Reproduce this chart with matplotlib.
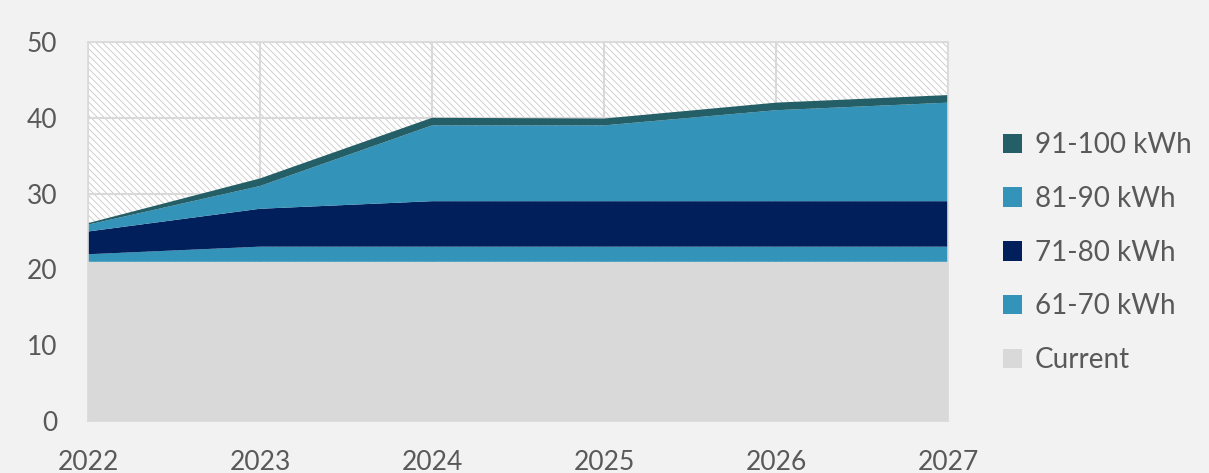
import matplotlib
matplotlib.use('Agg')
import matplotlib.pyplot as plt
from matplotlib.patches import Rectangle, Patch

plt.rcParams['font.family'] = ['Lato', 'DejaVu Sans']
plt.rcParams['hatch.color'] = '#C8C8C8'
plt.rcParams['hatch.linewidth'] = 0.6

# battery size mix per year
years = [2022, 2023, 2024, 2025, 2026, 2027]
current = [21, 21, 21, 21, 21, 21]
kwh_61_70 = [1, 2, 2, 2, 2, 2]
kwh_71_80 = [3, 5, 6, 6, 6, 6]
kwh_81_90 = [0.9, 3, 10, 10, 12, 13]
kwh_91_100 = [0.2, 1, 1, 0.9, 1, 1]

labels = ['Current', '61-70 kWh', '71-80 kWh', '81-90 kWh', '91-100 kWh']
colors = ['#D9D9D9', '#3393B9', '#001F5B', '#3393B9', '#245E66']

fig = plt.figure(figsize=(12.09, 4.73), dpi=100)
fig.patch.set_facecolor('#F2F2F2')
ax = fig.add_axes([88 / 1209, 52 / 473, 860 / 1209, 379 / 473])
ax.set_facecolor('white')

# hatched backdrop for the plot area
ax.add_patch(Rectangle((0, 0), 1, 1, transform=ax.transAxes, facecolor='white',
                       hatch='\\\\\\\\\\', edgecolor='#C8C8C8', linewidth=0, zorder=0))

ax.stackplot(years, current, kwh_61_70, kwh_71_80, kwh_81_90, kwh_91_100,
             colors=colors, linewidth=0, zorder=2)

ax.set_xlim(2022, 2027)
ax.set_ylim(0, 50)
ax.set_xticks(years)
ax.set_yticks(range(0, 51, 10))
ax.grid(True, color='#D9D9D9', linewidth=1.5, zorder=1)
ax.set_axisbelow(True)
for s in ax.spines.values():
    s.set_color('#D9D9D9')
    s.set_linewidth(1.2)
ax.tick_params(length=0, labelsize=19, colors='#595959')
ax.tick_params(axis='x', pad=21)
ax.tick_params(axis='y', pad=22)

handles = [Patch(facecolor=c, edgecolor='none') for c in colors]
leg = fig.legend(handles[::-1], labels[::-1], loc='upper left',
                 bbox_to_anchor=(978 / 1209, 1 - 107 / 473), frameon=False,
                 fontsize=20, labelcolor='#595959', handlelength=0.7,
                 handleheight=0.7, handletextpad=0.45, labelspacing=1.0)

fig.savefig('out.png', dpi=100, facecolor=fig.get_facecolor())
